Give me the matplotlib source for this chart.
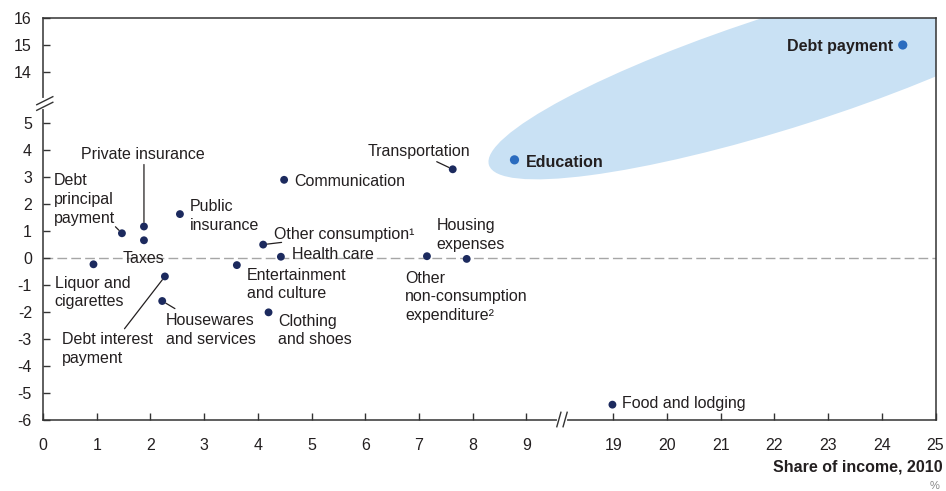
import numpy as np
import matplotlib.pyplot as plt
from matplotlib.patches import Ellipse
from matplotlib.transforms import Affine2D

plt.rcParams['font.family'] = ['Liberation Sans', 'DejaVu Sans']
plt.rcParams['axes.unicode_minus'] = False

# --- data (share of income in 2010, change) ---
categories = ['Debt principal payment', 'Private insurance', 'Taxes', 'Public insurance',
              'Liquor and cigarettes', 'Debt interest payment', 'Housewares and services',
              'Entertainment and culture', 'Clothing and shoes', 'Communication',
              'Other consumption', 'Health care', 'Transportation', 'Housing expenses',
              'Other non-consumption expenditure', 'Education', 'Debt payment',
              'Food and lodging']
share = [1.47, 1.88, 1.88, 2.55, 0.94, 2.27, 2.22, 3.61, 4.20, 4.49,
         4.10, 4.43, 7.63, 7.89, 7.15, 8.78, 24.39, 18.90]
change = [0.90, 1.15, 0.64, 1.61, -0.25, -0.70, -1.61, -0.28, -2.03, 2.88,
          0.48, 0.03, 3.27, -0.05, 0.05, 3.62, 15.0, -5.45]
highlighted = ['Education', 'Debt payment']

x_ticks = [0, 1, 2, 3, 4, 5, 6, 7, 8, 9, 19, 20, 21, 22, 23, 24, 25]
y_ticks = [-6, -5, -4, -3, -2, -1, 0, 1, 2, 3, 4, 5, 14, 15, 16]

label_text = {
    'Debt principal payment': 'Debt\nprincipal\npayment',
    'Liquor and cigarettes': 'Liquor and\ncigarettes',
    'Debt interest payment': 'Debt interest\npayment',
    'Housewares and services': 'Housewares\nand services',
    'Entertainment and culture': 'Entertainment\nand culture',
    'Clothing and shoes': 'Clothing\nand shoes',
    'Public insurance': 'Public\ninsurance',
    'Other consumption': 'Other consumption\u00b9',
    'Housing expenses': 'Housing\nexpenses',
    'Other non-consumption expenditure': 'Other\nnon-consumption\nexpenditure\u00b2',
}

# label offsets in pixels (dx, dy up), alignment, optional leader end offset
layout = {
    'Debt principal payment': (-67.7, 33.7, 'left', (-6.5, 6.5)),
    'Private insurance': (-63, 71.7, 'left', (0, 62)),
    'Taxes': (0, -18.3, 'center', None),
    'Public insurance': (10, -1.7, 'left', None),
    'Liquor and cigarettes': (-38.7, -28.1, 'left', None),
    'Debt interest payment': (-103, -72.5, 'left', (-40.4, -52.3)),
    'Housewares and services': (3.4, -29, 'left', (12.7, -7.6)),
    'Entertainment and culture': (10, -19.3, 'left', None),
    'Clothing and shoes': (9.3, -18.3, 'left', None),
    'Communication': (10.3, -1.7, 'left', None),
    'Other consumption': (11, 10, 'left', (18.4, 2.2)),
    'Health care': (10.7, 2.3, 'left', None),
    'Transportation': (17.3, 17.6, 'right', (-16, 7.6)),
    'Housing expenses': (-30, 24, 'left', None),
    'Other non-consumption expenditure': (-21.7, -40.5, 'left', None),
    'Education': (11.4, -2.4, 'left', None),
    'Debt payment': (-9.4, -2, 'right', None),
    'Food and lodging': (10, 1, 'left', None),
}

NAVY = '#1c2a5e'
BLUE = '#2b6cbf'
TXT = '#231f20'
PX = 0.72  # pixels -> points at 100 dpi


# broken axes as function scales
def fx(x):
    x = np.asarray(x, float)
    return np.where(x <= 9, x, np.where(x >= 19, x - 8.38, 9 + (x - 9) * 0.162))


def fx_inv(u):
    u = np.asarray(u, float)
    return np.where(u <= 9, u, np.where(u >= 10.62, u + 8.38, 9 + (u - 9) / 0.162))


def fy(y):
    y = np.asarray(y, float)
    return np.where(y <= 5, y, np.where(y >= 14, y - 7.125, 5 + (y - 5) * 1.875 / 9))


def fy_inv(v):
    v = np.asarray(v, float)
    return np.where(v <= 5, v, np.where(v >= 6.875, v + 7.125, 5 + (v - 5) * 9 / 1.875))


fig = plt.figure(figsize=(9.46, 4.91), dpi=100)
L, R, B, T = 43, 935.5, 419.5, 18
ax = fig.add_axes([L / 946, (491 - B) / 491, (R - L) / 946, (B - T) / 491])
ax.set_xscale('function', functions=(fx, fx_inv))
ax.set_yscale('function', functions=(fy, fy_inv))
ax.set_xlim(0, 25)
ax.set_ylim(-6, 16)

# highlight ellipse (drawn in axes pixel units)
W, H = R - L, B - T
ell = Ellipse((790 - L, B - 69), 632, 114, angle=17.7, facecolor='#c9e1f4',
              edgecolor='none', zorder=0.5,
              transform=Affine2D().scale(1 / W, 1 / H) + ax.transAxes)
ax.add_patch(ell)

ax.axhline(0, color='#a6a6a6', lw=1, ls=(0, (7, 3)), zorder=1)

for name, x, y in zip(categories, share, change):
    hl = name in highlighted
    ax.scatter(x, y, s=44 if hl else 32, color=BLUE if hl else NAVY,
               edgecolors='none', zorder=3)
    dx, dy, ha, lead = layout[name]
    ax.annotate(label_text.get(name, name), xy=(x, y), xytext=(dx * PX, dy * PX),
                textcoords='offset points', ha=ha, va='center', fontsize=11.5,
                color=TXT, linespacing=1.3,
                fontweight='bold' if hl else 'normal', zorder=4)
    if lead is not None:
        ax.annotate('', xy=(x, y), xytext=(lead[0] * PX, lead[1] * PX),
                    textcoords='offset points',
                    arrowprops=dict(arrowstyle='-', color=TXT, lw=0.9,
                                    shrinkA=0, shrinkB=3))

ax.set_xticks(x_ticks)
ax.set_xticklabels([str(t) for t in x_ticks])
ax.set_yticks(y_ticks)
ax.set_yticklabels([str(t) for t in y_ticks])
ax.minorticks_off()
ax.tick_params(axis='both', direction='in', length=5, width=1, color='#333333',
               labelsize=11.5, labelcolor=TXT)
ax.tick_params(axis='x', pad=13)
ax.tick_params(axis='y', pad=8)
for s in ax.spines.values():
    s.set_color('#333333')
    s.set_linewidth(1.1)

# axis break marks
yb = (B - 103.5) / H
ax.plot([0, 0], [yb - 0.008, yb + 0.008], transform=ax.transAxes, color='white',
        lw=3, clip_on=False, zorder=5)
for off in (-0.007, 0.007):
    ax.plot([-0.007, 0.011], [yb + off - 0.010, yb + off + 0.010],
            transform=ax.transAxes, color='#333333', lw=1, clip_on=False, zorder=6)
xb = (562 - L) / W
ax.plot([xb - 0.0035, xb + 0.0035], [0, 0], transform=ax.transAxes, color='white',
        lw=3, clip_on=False, zorder=5)
for off in (-0.0035, 0.0035):
    ax.plot([xb + off - 0.0023, xb + off + 0.0023], [-0.018, 0.018],
            transform=ax.transAxes, color='#333333', lw=1, clip_on=False, zorder=6)

ax.text((943 - L) / W, (B - 467) / H, 'Share of income, 2010', transform=ax.transAxes,
        ha='right', va='center', fontsize=11.5, fontweight='bold', color=TXT)
ax.text((939 - L) / W, (B - 486) / H, '%', transform=ax.transAxes,
        ha='right', va='center', fontsize=8, color='#888888')

fig.savefig('out.png', dpi=100)
